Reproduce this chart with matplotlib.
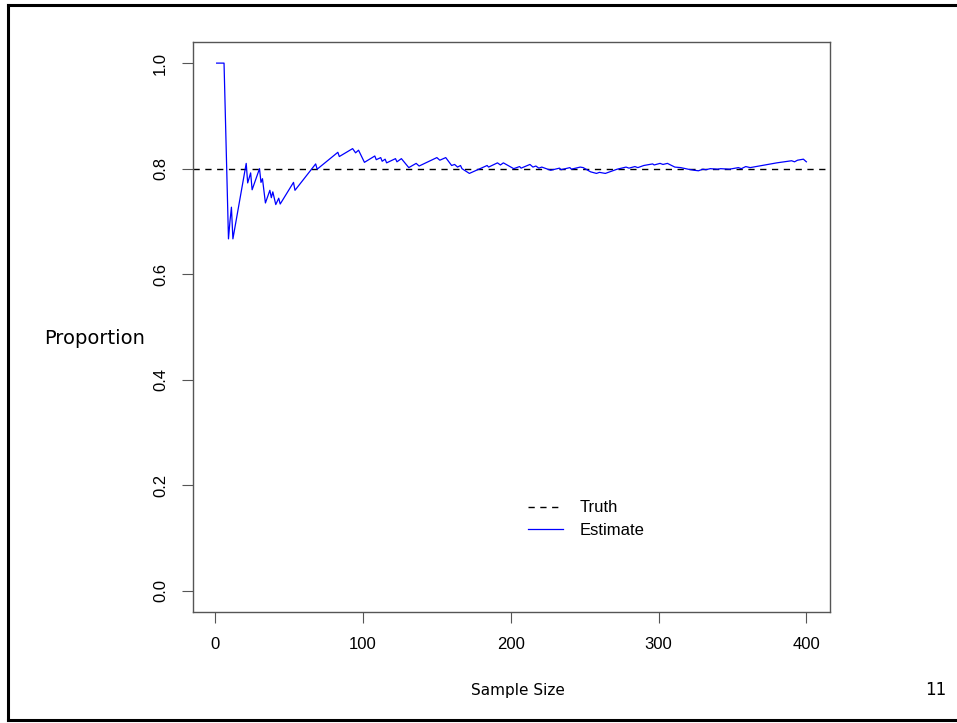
import numpy as np
import matplotlib
matplotlib.use("Agg")
import matplotlib.pyplot as plt
from matplotlib.lines import Line2D

# running estimate of the proportion (vertices)
sample_size = [1, 6, 9, 10, 11, 12, 21, 22, 24, 25, 30, 31, 32, 34, 37, 38, 39,
               41, 43, 44, 53, 54, 68, 69, 83, 84, 93, 95, 97, 101, 108, 109,
               112, 113, 115, 116, 122, 123, 126, 131, 136, 138, 150, 152, 156,
               160, 162, 164, 166, 167, 172, 184, 185, 191, 193, 195, 202, 206,
               207, 213, 215, 217, 219, 221, 227, 233, 234, 240, 241, 247, 249,
               254, 258, 260, 264, 272, 278, 280, 284, 286, 290, 296, 297, 301,
               303, 306, 311, 315, 320, 324, 327, 330, 332, 335, 340, 342, 348,
               354, 356, 359, 362, 372, 380, 390, 392, 394, 398, 400]
estimate = [1.0, 1.0, 0.667, 0.700, 0.727, 0.667, 0.810, 0.773, 0.792, 0.760,
            0.800, 0.774, 0.781, 0.735, 0.759, 0.745, 0.756, 0.732, 0.744, 0.733,
            0.774, 0.759, 0.809, 0.799, 0.831, 0.823, 0.838, 0.830, 0.835, 0.812,
            0.824, 0.817, 0.821, 0.814, 0.818, 0.811, 0.819, 0.813, 0.819, 0.802,
            0.810, 0.805, 0.821, 0.816, 0.821, 0.806, 0.808, 0.803, 0.806, 0.800,
            0.791, 0.806, 0.803, 0.811, 0.807, 0.811, 0.800, 0.804, 0.801, 0.808,
            0.803, 0.805, 0.801, 0.803, 0.797, 0.801, 0.798, 0.802, 0.799, 0.803,
            0.802, 0.794, 0.791, 0.793, 0.791, 0.799, 0.803, 0.801, 0.804, 0.802,
            0.806, 0.809, 0.807, 0.810, 0.808, 0.810, 0.803, 0.802, 0.799, 0.797,
            0.796, 0.799, 0.798, 0.800, 0.799, 0.800, 0.799, 0.802, 0.800, 0.804,
            0.802, 0.807, 0.811, 0.815, 0.813, 0.816, 0.818, 0.813]
truth = 0.8

x_ticks = [0, 100, 200, 300, 400]
y_ticks = [0.0, 0.2, 0.4, 0.6, 0.8, 1.0]

W, H = 957, 723
fig = plt.figure(figsize=(W / 100, H / 100), dpi=100)

# slide frame
for xs, ys in [((8, 8), (5, 720)), ((8, W), (5, 5)), ((8, W), (720, 720))]:
    fig.add_artist(Line2D([x / W for x in xs], [1 - y / H for y in ys],
                          transform=fig.transFigure, color="black", lw=2.2))

ax = fig.add_axes([193 / W, 1 - 612 / H, (830 - 193) / W, (612 - 42) / H])
ax.axhline(truth, color="black", lw=1.0, ls=(0, (4.5, 4)), label="Truth")
ax.plot(sample_size, estimate, color="#0000ff", lw=0.9, label="Estimate")

ax.set_xlim(-15, 416)
ax.set_ylim(-0.04, 1.04)
ax.set_xticks(x_ticks)
ax.set_yticks(y_ticks)
ax.set_yticklabels([f"{v:.1f}" for v in y_ticks], rotation=90, va="center")
for s in ax.spines.values():
    s.set_color("#555555")
    s.set_linewidth(1.0)
ax.tick_params(direction="out", length=8, width=0.8, color="#555555",
               labelsize=12, pad=10)
for lab in ax.get_xticklabels() + ax.get_yticklabels():
    lab.set_family("Liberation Sans")

ax.legend(loc="upper left", bbox_to_anchor=(0.502, 0.222), frameon=False,
          prop={"family": "Liberation Sans", "size": 12}, handlelength=2.1,
          labelspacing=0.45, handletextpad=1.0)

fig.text(95 / W, 1 - 338 / H, "Proportion", ha="center", va="center",
         fontsize=14, family="DejaVu Sans")
fig.text(518 / W, 1 - 691 / H, "Sample Size", ha="center", va="center",
         fontsize=11, family="DejaVu Sans")
fig.text(936 / W, 1 - 690 / H, "11", ha="center", va="center",
         fontsize=12, family="DejaVu Sans")

fig.savefig("out.png", dpi=100)
